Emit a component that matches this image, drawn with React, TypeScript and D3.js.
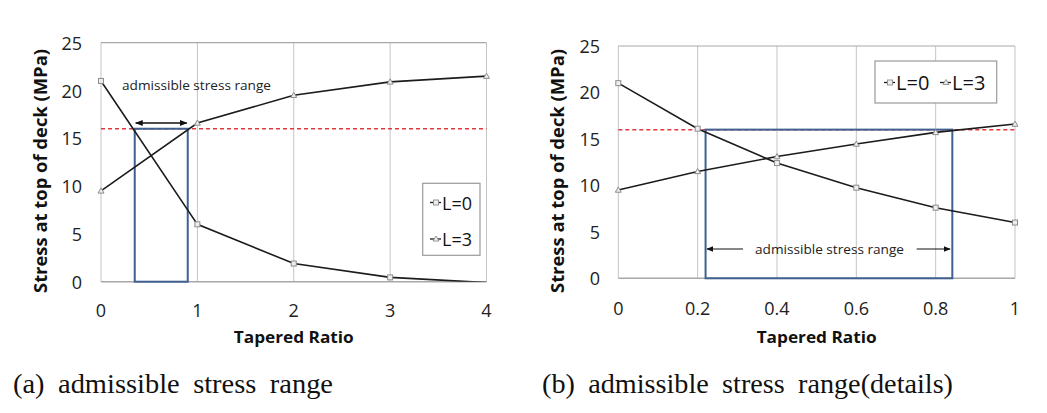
import React from "react";
import * as d3 from "d3";

const xLeft = [0, 1, 2, 3, 4];
const leftL0 = [21.0, 6.0, 1.9, 0.45, -0.1];
const leftL3 = [9.5, 16.6, 19.5, 20.9, 21.5];

const xRight = [0, 0.2, 0.4, 0.6, 0.8, 1];
const rightL0 = [21.0, 16.1, 12.4, 9.75, 7.6, 6.0];
const rightL3 = [9.5, 11.5, 13.1, 14.45, 15.7, 16.6];

const yTicks = [0, 5, 10, 15, 20, 25];
const xTicksLeft = [0, 1, 2, 3, 4];
const xTicksRight = [0, 0.2, 0.4, 0.6, 0.8, 1];

const limitStress = 16;
const rangeLeft = [0.35, 0.9];
const rangeRight = [0.22, 0.842];

const seriesNames = ["L=0", "L=3"];
const yLabel = "Stress at top of deck (MPa)";
const xLabel = "Tapered Ratio";
const noteText = "admissible stress range";
const captionA = "(a) admissible stress range";
const captionB = "(b) admissible stress range(details)";

const SANS = "'Open Sans', 'Noto Sans', sans-serif";
const SERIF = "'Liberation Serif', serif";
const LINE = "#1c1c1c";
const GRID = "#c4c4c4";
const AXIS = "#a8a8a8";
const BLUE = "#3f6090";
const RED = "#e0393e";

function Square({ x, y }: { x: number; y: number }) {
  return <rect x={x - 2.5} y={y - 2.5} width={5} height={5} fill="#eeeeee" stroke="#8c8c8c" strokeWidth={1} />;
}
function Tri({ x, y }: { x: number; y: number }) {
  return (
    <path
      d={`M${x},${y - 3} L${x + 3},${y + 2.2} L${x - 3},${y + 2.2} Z`}
      fill="#eeeeee"
      stroke="#8c8c8c"
      strokeWidth={1}
    />
  );
}

type PanelProps = {
  id: string;
  xs: number[];
  l0: number[];
  l3: number[];
  xDomain: [number, number];
  xRange: [number, number];
  yRange: [number, number];
  xTicks: number[];
  xTickFmt: (v: number) => string;
  yTickX: number;
  xTickY: number;
  yLabelX: number;
  xLabelY: number;
  range: number[];
  children?: (x: d3.ScaleLinear<number, number>, y: d3.ScaleLinear<number, number>) => React.ReactNode;
};

function Panel(p: PanelProps) {
  const x = d3.scaleLinear().domain(p.xDomain).range(p.xRange);
  const y = d3.scaleLinear().domain([0, 25]).range(p.yRange);
  const line = d3
    .line<number>()
    .x((_, i) => x(p.xs[i]))
    .y((d) => y(d));
  const [x0, x1] = p.xRange;
  const [yb, yt] = p.yRange;
  const midX = (x0 + x1) / 2;
  return (
    <g>
      <defs>
        <clipPath id={`clip-${p.id}`}>
          <rect x={x0 - 4} y={yt - 4} width={x1 - x0 + 8} height={yb - yt + 4} />
        </clipPath>
      </defs>
      {p.xTicks.map((t) => (
        <line key={t} x1={x(t)} x2={x(t)} y1={yt} y2={yb} stroke={GRID} strokeWidth={1} />
      ))}
      <line x1={x0} x2={x1} y1={yt} y2={yt} stroke={AXIS} strokeWidth={1.2} />
      <line x1={x0} x2={x1} y1={yb} y2={yb} stroke={AXIS} strokeWidth={1.4} />
      {yTicks.map((t) => (
        <text
          key={t}
          x={p.yTickX}
          y={y(t)}
          textAnchor="end"
          dominantBaseline="central"
          fontFamily={SANS}
          fontSize={18}
          fill="#222"
        >
          {t}
        </text>
      ))}
      {p.xTicks.map((t) => (
        <text
          key={t}
          x={x(t)}
          y={p.xTickY}
          textAnchor="middle"
          dominantBaseline="central"
          fontFamily={SANS}
          fontSize={18}
          fill="#222"
        >
          {p.xTickFmt(t)}
        </text>
      ))}
      <text
        transform={`translate(${p.yLabelX},171) rotate(-90)`}
        textAnchor="middle"
        dominantBaseline="central"
        fontFamily={SANS}
        fontWeight="bold"
        fontSize={17}
        fill="#111"
        textLength={244}
        lengthAdjust="spacingAndGlyphs"
      >
        {yLabel}
      </text>
      <text
        x={midX}
        y={p.xLabelY}
        textAnchor="middle"
        dominantBaseline="central"
        fontFamily={SANS}
        fontWeight="bold"
        fontSize={16}
        fill="#111"
        textLength={120}
        lengthAdjust="spacingAndGlyphs"
      >
        {xLabel}
      </text>
      <line
        x1={x0}
        x2={x1}
        y1={y(limitStress)}
        y2={y(limitStress)}
        stroke={RED}
        strokeWidth={1.5}
        strokeDasharray="4,3"
      />
      <rect
        x={x(p.range[0])}
        y={y(limitStress)}
        width={x(p.range[1]) - x(p.range[0])}
        height={y(0) - y(limitStress)}
        fill="none"
        stroke={BLUE}
        strokeWidth={2}
      />
      <g clipPath={`url(#clip-${p.id})`}>
        <path d={line(p.l0) || ""} fill="none" stroke={LINE} strokeWidth={1.6} />
        <path d={line(p.l3) || ""} fill="none" stroke={LINE} strokeWidth={1.6} />
        {p.l0.map((v, i) => (v >= 0 ? <Square key={i} x={x(p.xs[i])} y={y(v)} /> : null))}
        {p.l3.map((v, i) => (
          <Tri key={i} x={x(p.xs[i])} y={y(v)} />
        ))}
      </g>
      {p.children && p.children(x, y)}
    </g>
  );
}

function LegendEntry({ x, y, name, kind, size }: { x: number; y: number; name: string; kind: number; size: number }) {
  return (
    <g>
      <line x1={x} x2={x + 11} y1={y} y2={y} stroke={LINE} strokeWidth={1.3} />
      {kind === 0 ? (
        <rect x={x + 3.5} y={y - 2.5} width={5} height={5} fill="#eee" stroke="#8c8c8c" strokeWidth={0.9} />
      ) : (
        <path d={`M${x + 6},${y - 3} L${x + 9},${y + 2} L${x + 3},${y + 2} Z`} fill="#eee" stroke="#8c8c8c" strokeWidth={0.9} />
      )}
      <text x={x + 12} y={y} dominantBaseline="central" fontFamily={SANS} fontSize={size} fill="#111">
        {name}
      </text>
    </g>
  );
}

export default function App() {
  return (
    <svg
      width={1047}
      height={413}
      style={{ position: "absolute", left: 0, top: 0, background: "#fff" }}
    >
      <defs>
        <marker id="arrowEnd" viewBox="0 0 10 10" refX="9" refY="5" markerWidth="6" markerHeight="6" orient="auto-start-reverse">
          <path d="M0,1 L10,5 L0,9 Z" fill="#111" />
        </marker>
      </defs>
      <rect x={0} y={0} width={1047} height={413} fill="#fff" />
      <Panel
        id="a"
        xs={xLeft}
        l0={leftL0}
        l3={leftL3}
        xDomain={[0, 4]}
        xRange={[101, 486.5]}
        yRange={[281.7, 42.7]}
        xTicks={xTicksLeft}
        xTickFmt={(v) => String(v)}
        yTickX={82}
        xTickY={310}
        yLabelX={40}
        xLabelY={337}
        range={rangeLeft}
      >
        {(x, y) => (
          <g>
            <line
              x1={x(rangeLeft[0]) + 1}
              x2={x(rangeLeft[1]) - 1}
              y1={y(16.6)}
              y2={y(16.6)}
              stroke="#111"
              strokeWidth={1.3}
              markerStart="url(#arrowEnd)"
              markerEnd="url(#arrowEnd)"
            />
            <text
              x={196.5}
              y={85}
              textAnchor="middle"
              dominantBaseline="central"
              fontFamily={SANS}
              fontSize={13}
              fill="#222"
              textLength={149}
              lengthAdjust="spacingAndGlyphs"
            >
              {noteText}
            </text>
            <rect x={422.7} y={183.3} width={57.3} height={72} fill="#fff" stroke="#9a9a9a" strokeWidth={1.2} />
            <LegendEntry x={430} y={202.5} name={seriesNames[0]} kind={0} size={18} />
            <LegendEntry x={430} y={239} name={seriesNames[1]} kind={1} size={18} />
          </g>
        )}
      </Panel>
      <Panel
        id="b"
        xs={xRight}
        l0={rightL0}
        l3={rightL3}
        xDomain={[0, 1]}
        xRange={[618.3, 1015]}
        yRange={[278.3, 46]}
        xTicks={xTicksRight}
        xTickFmt={(v) => String(v)}
        yTickX={600}
        xTickY={307.5}
        yLabelX={557}
        xLabelY={337}
        range={rangeRight}
      >
        {() => (
          <g>
            <line x1={743} x2={707} y1={249} y2={249} stroke="#111" strokeWidth={1.2} markerEnd="url(#arrowEnd)" />
            <line x1={916.7} x2={950} y1={249} y2={249} stroke="#111" strokeWidth={1.2} markerEnd="url(#arrowEnd)" />
            <text
              x={829.5}
              y={249}
              textAnchor="middle"
              dominantBaseline="central"
              fontFamily={SANS}
              fontSize={13}
              fill="#222"
              textLength={149}
              lengthAdjust="spacingAndGlyphs"
            >
              {noteText}
            </text>
            <rect x={875} y={61} width={121.7} height={42} fill="#fff" stroke="#9a9a9a" strokeWidth={1.2} />
            <LegendEntry x={884} y={82.5} name={seriesNames[0]} kind={0} size={20} />
            <LegendEntry x={940} y={82.5} name={seriesNames[1]} kind={1} size={20} />
          </g>
        )}
      </Panel>
      <text
        x={13}
        y={384}
        dominantBaseline="central"
        fontFamily={SERIF}
        fontSize={27}
        fill="#111"
        textLength={320}
        lengthAdjust="spacingAndGlyphs"
        wordSpacing={6}
      >
        {captionA}
      </text>
      <text
        x={542}
        y={384}
        dominantBaseline="central"
        fontFamily={SERIF}
        fontSize={27}
        fill="#111"
        textLength={411}
        lengthAdjust="spacingAndGlyphs"
        wordSpacing={6}
      >
        {captionB}
      </text>
    </svg>
  );
}
